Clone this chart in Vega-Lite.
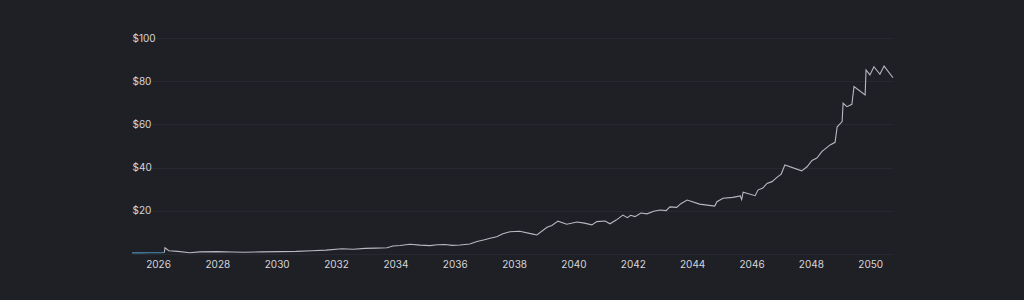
{
  "$schema": "https://vega.github.io/schema/vega-lite/v6.json",
  "width": 761,
  "height": 216,
  "autosize": {"type": "none"},
  "padding": {"left": 132, "top": 38, "right": 131, "bottom": 46},
  "background": "#1f2026",
  "config": {
    "view": {"stroke": null},
    "font": "Inter"
  },
  "data": {
    "values": [
      {"date": "2025-02-15", "value": 0.5, "series": "actual"},
      {"date": "2025-06-01", "value": 0.5, "series": "actual"},
      {"date": "2025-10-01", "value": 0.6, "series": "actual"},
      {"date": "2026-02-01", "value": 0.6, "series": "actual"},
      {"date": "2026-03-20", "value": 0.7, "series": "actual"},
      {"date": "2026-03-20", "value": 0.7, "series": "forecast"},
      {"date": "2026-03-28", "value": 2.9, "series": "forecast"},
      {"date": "2026-05-15", "value": 1.5, "series": "forecast"},
      {"date": "2026-09-01", "value": 1.2, "series": "forecast"},
      {"date": "2027-01-28", "value": 0.6, "series": "forecast"},
      {"date": "2027-06-01", "value": 1.0, "series": "forecast"},
      {"date": "2028-01-01", "value": 1.1, "series": "forecast"},
      {"date": "2028-07-01", "value": 0.9, "series": "forecast"},
      {"date": "2028-12-01", "value": 0.8, "series": "forecast"},
      {"date": "2029-07-01", "value": 1.0, "series": "forecast"},
      {"date": "2030-02-10", "value": 1.1, "series": "forecast"},
      {"date": "2030-09-01", "value": 1.2, "series": "forecast"},
      {"date": "2031-03-10", "value": 1.5, "series": "forecast"},
      {"date": "2031-09-01", "value": 1.8, "series": "forecast"},
      {"date": "2032-03-15", "value": 2.4, "series": "forecast"},
      {"date": "2032-08-01", "value": 2.2, "series": "forecast"},
      {"date": "2032-12-25", "value": 2.6, "series": "forecast"},
      {"date": "2033-05-01", "value": 2.7, "series": "forecast"},
      {"date": "2033-09-20", "value": 2.9, "series": "forecast"},
      {"date": "2033-12-01", "value": 3.7, "series": "forecast"},
      {"date": "2034-03-01", "value": 3.9, "series": "forecast"},
      {"date": "2034-06-28", "value": 4.5, "series": "forecast"},
      {"date": "2034-11-01", "value": 4.1, "series": "forecast"},
      {"date": "2035-03-01", "value": 3.9, "series": "forecast"},
      {"date": "2035-06-01", "value": 4.3, "series": "forecast"},
      {"date": "2035-09-01", "value": 4.4, "series": "forecast"},
      {"date": "2035-12-01", "value": 4.0, "series": "forecast"},
      {"date": "2036-03-05", "value": 4.2, "series": "forecast"},
      {"date": "2036-07-05", "value": 4.6, "series": "forecast"},
      {"date": "2036-10-01", "value": 5.8, "series": "forecast"},
      {"date": "2037-01-01", "value": 6.6, "series": "forecast"},
      {"date": "2037-03-10", "value": 7.3, "series": "forecast"},
      {"date": "2037-06-01", "value": 8.0, "series": "forecast"},
      {"date": "2037-08-15", "value": 9.4, "series": "forecast"},
      {"date": "2037-11-10", "value": 10.3, "series": "forecast"},
      {"date": "2038-03-10", "value": 10.5, "series": "forecast"},
      {"date": "2038-08-20", "value": 9.2, "series": "forecast"},
      {"date": "2038-10-08", "value": 8.8, "series": "forecast"},
      {"date": "2039-02-10", "value": 12.4, "series": "forecast"},
      {"date": "2039-04-10", "value": 13.2, "series": "forecast"},
      {"date": "2039-06-25", "value": 15.2, "series": "forecast"},
      {"date": "2039-10-10", "value": 13.8, "series": "forecast"},
      {"date": "2040-02-15", "value": 14.8, "series": "forecast"},
      {"date": "2040-05-15", "value": 14.3, "series": "forecast"},
      {"date": "2040-08-15", "value": 13.5, "series": "forecast"},
      {"date": "2040-10-15", "value": 15.0, "series": "forecast"},
      {"date": "2041-01-25", "value": 15.3, "series": "forecast"},
      {"date": "2041-03-25", "value": 14.0, "series": "forecast"},
      {"date": "2041-06-10", "value": 15.7, "series": "forecast"},
      {"date": "2041-09-01", "value": 18.0, "series": "forecast"},
      {"date": "2041-10-25", "value": 16.8, "series": "forecast"},
      {"date": "2041-12-05", "value": 17.9, "series": "forecast"},
      {"date": "2042-01-28", "value": 17.3, "series": "forecast"},
      {"date": "2042-04-10", "value": 19.0, "series": "forecast"},
      {"date": "2042-06-25", "value": 18.6, "series": "forecast"},
      {"date": "2042-09-15", "value": 19.8, "series": "forecast"},
      {"date": "2042-12-01", "value": 20.4, "series": "forecast"},
      {"date": "2043-02-15", "value": 20.1, "series": "forecast"},
      {"date": "2043-04-01", "value": 21.8, "series": "forecast"},
      {"date": "2043-06-25", "value": 21.6, "series": "forecast"},
      {"date": "2043-08-15", "value": 23.3, "series": "forecast"},
      {"date": "2043-11-01", "value": 25.0, "series": "forecast"},
      {"date": "2044-04-01", "value": 23.1, "series": "forecast"},
      {"date": "2044-10-05", "value": 22.2, "series": "forecast"},
      {"date": "2044-11-01", "value": 24.2, "series": "forecast"},
      {"date": "2045-01-15", "value": 25.8, "series": "forecast"},
      {"date": "2045-05-15", "value": 26.2, "series": "forecast"},
      {"date": "2045-08-15", "value": 26.9, "series": "forecast"},
      {"date": "2045-09-01", "value": 25.2, "series": "forecast"},
      {"date": "2045-09-20", "value": 28.6, "series": "forecast"},
      {"date": "2046-02-15", "value": 27.0, "series": "forecast"},
      {"date": "2046-03-20", "value": 29.6, "series": "forecast"},
      {"date": "2046-05-20", "value": 30.5, "series": "forecast"},
      {"date": "2046-07-10", "value": 32.7, "series": "forecast"},
      {"date": "2046-09-10", "value": 33.5, "series": "forecast"},
      {"date": "2046-11-10", "value": 35.5, "series": "forecast"},
      {"date": "2047-01-01", "value": 37.0, "series": "forecast"},
      {"date": "2047-02-15", "value": 41.2, "series": "forecast"},
      {"date": "2047-09-10", "value": 38.5, "series": "forecast"},
      {"date": "2047-11-15", "value": 40.4, "series": "forecast"},
      {"date": "2048-01-15", "value": 43.3, "series": "forecast"},
      {"date": "2048-03-15", "value": 44.4, "series": "forecast"},
      {"date": "2048-05-15", "value": 47.4, "series": "forecast"},
      {"date": "2048-08-25", "value": 50.5, "series": "forecast"},
      {"date": "2048-10-25", "value": 51.7, "series": "forecast"},
      {"date": "2048-11-20", "value": 58.9, "series": "forecast"},
      {"date": "2049-01-20", "value": 61.3, "series": "forecast"},
      {"date": "2049-02-01", "value": 69.8, "series": "forecast"},
      {"date": "2049-03-20", "value": 68.2, "series": "forecast"},
      {"date": "2049-05-20", "value": 69.3, "series": "forecast"},
      {"date": "2049-06-15", "value": 77.5, "series": "forecast"},
      {"date": "2049-10-30", "value": 73.6, "series": "forecast"},
      {"date": "2049-11-10", "value": 85.2, "series": "forecast"},
      {"date": "2049-12-28", "value": 82.9, "series": "forecast"},
      {"date": "2050-02-15", "value": 86.7, "series": "forecast"},
      {"date": "2050-04-30", "value": 83.2, "series": "forecast"},
      {"date": "2050-06-20", "value": 87.0, "series": "forecast"},
      {"date": "2050-10-08", "value": 81.6, "series": "forecast"}
    ]
  },
  "mark": {"type": "line", "strokeWidth": 1.1, "interpolate": "linear"},
  "encoding": {
    "x": {
      "field": "date",
      "type": "temporal",
      "scale": {"domain": ["2025-02-15", "2050-10-08"], "nice": false},
      "axis": {
        "title": null,
        "format": "%Y",
        "tickCount": {"interval": "year", "step": 2},
        "grid": false,
        "domain": false,
        "ticks": false,
        "labelPadding": 5,
        "labelColor": "#d4d5da",
        "labelFontSize": 10,
        "labelFont": "Inter"
      }
    },
    "y": {
      "field": "value",
      "type": "quantitative",
      "scale": {"domain": [0, 100], "nice": false},
      "axis": {
        "title": null,
        "values": [0, 20, 40, 60, 80, 100],
        "labelExpr": "datum.value === 0 ? '' : '$' + datum.value",
        "grid": true,
        "gridColor": "#282930",
        "gridWidth": 1,
        "domain": false,
        "ticks": false,
        "labelAlign": "left",
        "labelPadding": 0,
        "labelColor": "#d4d5da",
        "labelFontSize": 10,
        "labelFont": "Inter"
      }
    },
    "color": {
      "field": "series",
      "type": "nominal",
      "scale": {"domain": ["actual", "forecast"], "range": ["#4a8db5", "#b8b8c0"]},
      "legend": null
    }
  }
}
